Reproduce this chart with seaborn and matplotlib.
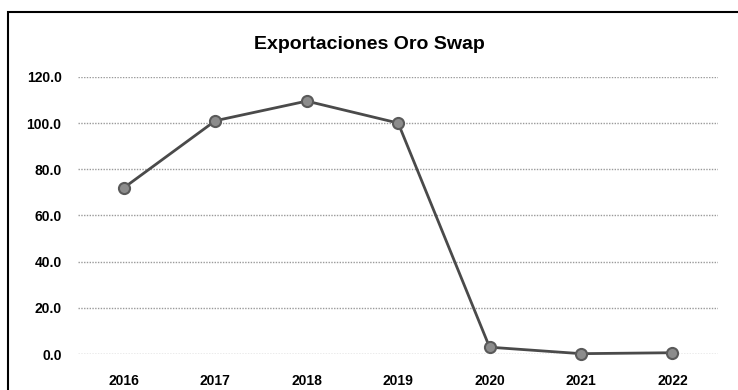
import matplotlib
matplotlib.use('Agg')
import matplotlib.pyplot as plt
import seaborn as sns
import pandas as pd
from matplotlib.patches import Rectangle

# values
years = ['2016', '2017', '2018', '2019', '2020', '2021', '2022']
exports = [72.0, 101.0, 109.5, 100.0, 3.0, 0.2, 0.6]
yticks = [0, 20, 40, 60, 80, 100, 120]

df = pd.DataFrame({'year': years, 'value': exports})

sns.set_style('white')
plt.rcParams['font.family'] = ['Liberation Sans', 'DejaVu Sans']
plt.rcParams['text.color'] = 'black'
plt.rcParams['xtick.color'] = 'black'
plt.rcParams['ytick.color'] = 'black'

fig = plt.figure(figsize=(7.38, 3.9), dpi=100)
ax = fig.add_axes([0.106, 0.092, 0.867, 0.711])

sns.pointplot(data=df, x='year', y='value', color='#4a4a4a', markers='o',
              linewidth=2, markersize=8, ax=ax, zorder=3)
# grey fill for the markers
for ln in ax.lines:
    ln.set_markerfacecolor('#8c8c8c')
    ln.set_markeredgecolor('#5a5a5a')
    ln.set_clip_on(False)

ax.set_xlim(-0.5, 6.5)
ax.set_ylim(0, 120)
ax.set_yticks(yticks)
ax.set_yticklabels(['%.1f' % v for v in yticks], fontsize=10, fontweight='bold')
ax.set_xticks(range(len(years)))
ax.set_xticklabels(years, fontsize=10, fontweight='bold')
ax.tick_params(axis='y', pad=12, length=0)
ax.tick_params(axis='x', pad=14, length=0)
ax.set_xlabel('')
ax.set_ylabel('')
ax.set_axisbelow(True)
ax.yaxis.grid(True, color='#9a9a9a', linestyle=(0, (1, 1)), linewidth=1)
for s in ax.spines.values():
    s.set_visible(False)

fig.text(0.5, 0.885, 'Exportaciones Oro Swap', ha='center', va='center',
         fontsize=14, fontweight='bold')

# outer chart frame
fig.patches.append(Rectangle((8 / 738, -0.1), 1.0, 1 - 12 / 390 + 0.1,
                             transform=fig.transFigure, fill=False,
                             edgecolor='black', linewidth=1.5))

fig.savefig('out.png', dpi=100)
